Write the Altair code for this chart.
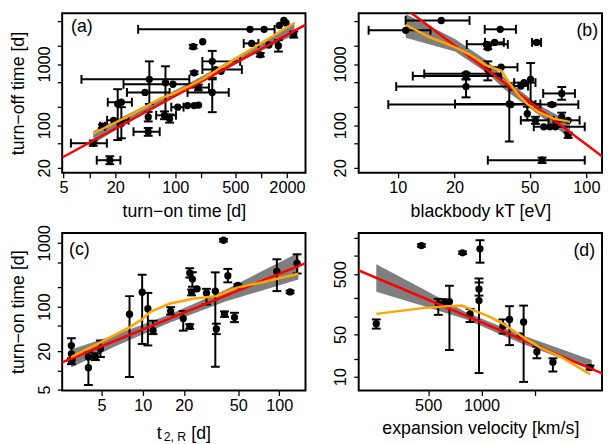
import json
import altair as alt
import pandas as pd

FONT = "Liberation Sans"
GRAY = "#7F7F7F"
RED = "#FF0000"
ORANGE = "#FFA500"
N = None

# ---------------- panel (a): turn-on vs turn-off ----------------
A_X   = [17.3, 11.1, 14.2, 19.2, 21.4, 23.6, 23.6, 48.5, 48.5, 50, 44.5, 75, 86, 77, 94, 107, 139, 166, 187, 166, 162, 209, 186, 270, 270, 294, 342, 743, 1084, 776, 977, 1232, 1588, 1838, 1630, 2400, 1950]
A_Y   = [26.7, 50.7, 96, 120, 222, 237, 106, 78, 136, 561, 343, 145, 128, 495, 466, 197, 209, 209, 213, 717, 1923, 2311, 412, 1104, 343, 811, 759, 3690, 3690, 2173, 1412, 2043, 1993, 5140, 4280, 3030, 4700]
A_XLO = [12.2, 6.1, 13.3, 16.1, N, 16.4, N, 32.7, N, 8.1, 27.4, 60, N, N, 25, 90, N, N, N, N, N, N, 139, 207, 139, 207, N, 37, N, 627, N, N, N, N, N, N, N]
A_XHI = [23, 16, 15.2, 28.6, N, 31.3, N, 66, N, 146, 86, 102, N, N, 186, 125, N, N, N, N, N, N, 247, 571, 420, 597, N, 1436, N, 931, N, N, N, N, N, N, N]
A_YLO = [23, 46, 90, N, 57, N, 61, 67, 115, 222, N, 125, 110, 136, N, N, N, N, N, 680, 1800, N, 370, 595, 163, N, N, N, N, N, 1320, N, 1596, N, N, 2700, N]
A_YHI = [31, 56, 102, N, 387, N, 197, 90, 165, 1104, N, 168, 150, 918, N, N, N, N, N, 760, 2050, N, 460, 1637, 561, N, N, N, N, N, 1510, N, 2459, N, N, 3400, N]
A_RED_X = [4.9, 3460]
A_RED_Y = [29.9, 4550]
A_OR_X = [11.1, 27.4, 66, 103, 207, 385, 927, 2443]
A_OR_Y = [73, 136, 268, 343, 561, 975, 2042, 4720]
A_BAND_X  = [11.1, 31.6, 100, 200, 501, 1000, 2443]
A_BAND_LO = [50, 118.6, 301, 515, 1014, 1637, 3013]
A_BAND_HI = [79.4, 163.7, 371, 619, 1276, 2259, 4775]

# ---------------- panel (b): blackbody kT vs turn-off ----------------
B_X   = [17, 11, 34.9, 54.5, 29.5, 32.6, 30, 35.3, 30, 23, 23, 23, 39, 39.8, 50.6, 44.9, 46.7, 74, 65.6, 53.7, 59.4, 64, 68.5, 74, 80, 80, 58.2, 48.6]
B_Y   = [5150, 3560, 3690, 2254, 2096, 2254, 1850, 885, 812, 634, 690, 428, 222, 217, 561, 437, 496, 330, 217, 120, 94, 94, 94, 136, 120, 69, 26.7, 154]
B_XLO = [11, 7, 28.9, 51.5, 23.2, 29, N, 29.5, N, 12, 13.8, 9.8, 20.1, 8.9, N, 41, 41.4, 59, 53.7, 44.9, 52.6, N, N, N, 67, N, 30, N]
B_XHI = [24, 14.9, 42.3, 57.5, 38.3, 36.5, N, 43.1, N, 35.3, 35.3, 39.8, 57, 48.6, N, 49, 53.7, 86.9, 90.6, 63, 98, N, N, N, 92, N, 98, N]
B_YLO = [N, N, N, 2150, N, N, 1750, N, 540, 561, N, 285, 54, N, 237, N, N, 260, 205, 105, N, N, N, 115, N, 62, 24, 120]
B_YHI = [N, N, N, 2360, N, N, 1960, N, 1104, 720, N, 561, 437, N, 1038, N, N, 420, 230, 137, N, N, N, 160, N, 76, 29.5, 200]
B_RED_X = [10, 130]
B_RED_Y = [10000, 26.3]
B_OR_X = [11, 14.6, 19.8, 24.2, 30.1, 35.3, 39, 43.2, 48.6, 56, 67, 81.8]
B_OR_Y = [4385, 2780, 1923, 1413, 918, 782, 495, 322, 222, 163, 128, 113]
B_BAND_X  = [11, 20.1, 30, 36.7, 54.8, 81.8]
B_BAND_LO = [2679, 1596, 700, 387, 154, 61]
B_BAND_HI = [6590, 2553, 1104, 596, 222, 113]

# ---------------- panel (c): t2,R vs turn-on ----------------
C_X   = [3.0, 3.0, 3.0, 4.0, 4.0, 4.5, 4.9, 8.0, 9.9, 10.9, 11.9, 16, 19.8, 22.1, 22.1, 23.1, 22.8, 25, 29.3, 34, 34.6, 39, 39.7, 42, 47, 49.7, 96, 120, 135]
C_Y   = [24.5, 18.2, 13.9, 16.2, 11, 16.2, 21.8, 75.9, 168, 92.6, 41.9, 85, 65, 49, 336, 270, 168, 190, 164, 175, 44.7, 1096, 76, 305, 68, 214, 355, 170, 479]
C_YLO = [14.4, N, 12.5, N, 5.9, 14.5, 16.2, 7.9, 26, 24.6, 37, 75, 42, 45, 285, 205, 150, N, 108, 11.4, 37, 1050, 69, 240, 57, 205, 175, 162, 330]
C_YHI = [31.9, N, 15.5, N, 19.4, 18.5, 29.4, 146, 316, 164, 60, 98, 85.5, 53, 400, 345, 185, N, 190, 344, 54, 1150, 84, 390, 80, 225, 552, 178, 660]
C_RED_X = [2.5, 160]
C_RED_Y = [13.1, 491]
C_OR_X = [2.99, 4.93, 7.93, 9.89, 11.4, 15.9, 23.4, 34.6, 48.3, 71.3, 138]
C_OR_Y = [16.2, 27.7, 46.8, 63.5, 82.6, 112, 133, 146, 197, 235, 328]
C_BAND_X  = [2.99, 6.31, 15.85, 39.8, 138]
C_BAND_LO = [11.1, 23.9, 56.5, 118.9, 266]
C_BAND_HI = [21.2, 36.1, 76.2, 179.9, 700]

# ---------------- panel (d): expansion velocity vs turn-on ----------------
D_X   = [255, 458, 781, 979, 967, 967, 570, 621, 659, 861, 1319, 1436, 1725, 1655, 2048, 2522, 4083]
D_Y   = [75.7, 1493, 1133, 1318, 284, 183, 161, 176, 176, 110, 69, 89, 81, 47.5, 26, 17.4, 14.2]
D_YLO = [62.7, 1420, 1080, 776, 221, 11.5, 106, N, 27.7, 80.7, 51.9, 33.4, 8.2, N, 20.2, 12.2, 13.2]
D_YHI = [89, 1570, 1190, 1828, 425, 365, 195, N, 322, 133, 89, 147.6, 151, N, 31.6, 20.2, 15.3]
D_RED_X = [200, 4900]
D_RED_Y = [590, 11.0]
D_OR_X = [255, 465, 653, 774, 861, 1089, 1318, 1500, 1816, 2153, 2780, 4083]
D_OR_Y = [110, 137, 148, 151, 133, 101, 75.7, 58.9, 40.4, 30.2, 21.5, 11]
D_BAND_X  = [255, 465, 807, 1667, 4170]
D_BAND_LO = [256, 150, 90.6, 35.9, 13]
D_BAND_HI = [729, 286, 119, 49.5, 19]

AX = dict(domain=False, grid=False, ticks=True, tickColor="black", tickWidth=1.3, tickSize=5,
          labelFont=FONT, labelFontSize=16.5, labelColor="black", labelFlush=False, labelOverlap=False,
          titleFont=FONT, titleFontSize=18, titleFontWeight="normal", titleColor="black")


def lab_expr(labels):
    return "indexof(" + json.dumps(labels) + ", datum.value) >= 0 ? '' + datum.value : ''"


def panel(x, y, xlo, xhi, ylo, yhi, red_x, red_y, or_x, or_y, bx, blo, bhi,
          xdom, ydom, xticks, xlabs, yticks, ylabs, xtitle, ytitle, tag, tag_x, tag_y, tag_align, w, h):
    xs = alt.Scale(type="log", domain=xdom, nice=False)
    ys = alt.Scale(type="log", domain=ydom, nice=False)
    xaxis = alt.Axis(values=xticks, labelExpr=lab_expr(xlabs), title=xtitle, labelPadding=2,
                     minExtent=24, maxExtent=24, titlePadding=6, **AX)
    yaxis = alt.Axis(values=yticks, labelExpr=lab_expr(ylabs), title=ytitle, labelAngle=270,
                     labelAlign="center", labelBaseline="bottom", labelPadding=5,
                     minExtent=28, maxExtent=28, titlePadding=7, **AX)

    def ex(f):
        return alt.X(f, scale=xs, axis=xaxis)

    def ey(f):
        return alt.Y(f, scale=ys, axis=yaxis)

    pts = pd.DataFrame({"x": x, "y": y})
    band_df = pd.DataFrame({"x": bx, "lo": blo, "hi": bhi})
    red_df = pd.DataFrame({"x": red_x, "y": red_y})
    or_df = pd.DataFrame({"x": or_x, "y": or_y})
    tag_df = pd.DataFrame({"t": [tag]})

    layers = [
        alt.Chart(band_df).mark_area(color=GRAY, opacity=1, clip=True).encode(
            x=ex("x:Q"), y=ey("lo:Q"), y2="hi:Q"),
    ]
    if xlo is not None:
        xe = pd.DataFrame([{"y": b, "lo": l, "hi": hh} for b, l, hh in zip(y, xlo, xhi) if l is not None])
        layers += [
            alt.Chart(xe).mark_rule(color="black", strokeWidth=2).encode(
                x=ex("lo:Q"), x2="hi:Q", y=ey("y:Q")),
            alt.Chart(xe).mark_tick(color="black", orient="vertical", size=9, thickness=2, opacity=1).encode(
                x=ex("lo:Q"), y=ey("y:Q")),
            alt.Chart(xe).mark_tick(color="black", orient="vertical", size=9, thickness=2, opacity=1).encode(
                x=ex("hi:Q"), y=ey("y:Q")),
        ]
    ye = pd.DataFrame([{"x": a, "lo": l, "hi": hh} for a, l, hh in zip(x, ylo, yhi) if l is not None])
    layers += [
        alt.Chart(ye).mark_rule(color="black", strokeWidth=2).encode(
            x=ex("x:Q"), y=ey("lo:Q"), y2="hi:Q"),
        alt.Chart(ye).mark_tick(color="black", orient="horizontal", size=9, thickness=2, opacity=1).encode(
            x=ex("x:Q"), y=ey("lo:Q")),
        alt.Chart(ye).mark_tick(color="black", orient="horizontal", size=9, thickness=2, opacity=1).encode(
            x=ex("x:Q"), y=ey("hi:Q")),
        alt.Chart(pts).mark_circle(color="black", size=55, opacity=1).encode(
            x=ex("x:Q"), y=ey("y:Q")),
        alt.Chart(red_df).mark_line(color=RED, strokeWidth=2.5, clip=True).encode(
            x=ex("x:Q"), y=ey("y:Q")),
        alt.Chart(or_df).mark_line(color=ORANGE, strokeWidth=2.5, clip=True).encode(
            x=ex("x:Q"), y=ey("y:Q")),
        alt.Chart(tag_df).mark_text(font=FONT, fontSize=18, color="black", align=tag_align,
                                    baseline="alphabetic").encode(
            x=alt.value(tag_x), y=alt.value(tag_y), text="t:N"),
    ]
    return layers


W = 247
la = panel(A_X, A_Y, A_XLO, A_XHI, A_YLO, A_YHI, A_RED_X, A_RED_Y, A_OR_X, A_OR_Y,
           A_BAND_X, A_BAND_LO, A_BAND_HI, [4.83, 3288], [16.6, 6760],
           [5, 10, 20, 50, 100, 200, 500, 1000, 2000], [5, 20, 100, 500, 2000],
           [20, 50, 100, 200, 500, 1000, 2000, 5000], [20, 100, 1000],
           "turn\u2212on time [d]", "turn\u2212off time [d]", "(a)", 9, 19.5, "left", W, 162)
lb = panel(B_X, B_Y, B_XLO, B_XHI, B_YLO, B_YHI, B_RED_X, B_RED_Y, B_OR_X, B_OR_Y,
           B_BAND_X, B_BAND_LO, B_BAND_HI, [6.2, 121], [16.6, 6760],
           [10, 20, 50, 100], [10, 20, 50, 100],
           [20, 50, 100, 200, 500, 1000, 2000, 5000], [20, 100, 1000],
           "blackbody kT [eV]", None, "(b)", 243, 23, "right", W, 162)
lc = panel(C_X, C_Y, None, None, C_YLO, C_YHI, C_RED_X, C_RED_Y, C_OR_X, C_OR_Y,
           C_BAND_X, C_BAND_LO, C_BAND_HI, [2.57, 155.6], [4.83, 1429],
           [5, 10, 20, 50, 100], [5, 10, 20, 50, 100],
           [5, 10, 20, 50, 100, 200, 500, 1000], [5, 20, 100, 1000],
           None, "turn\u2212on time [d]", "(c)", 7, 22, "left", W, 160)
# subscripted x title of panel (c): t_{2, R} [d]
lc += [
    alt.Chart(pd.DataFrame({"t": ["t"]})).mark_text(font=FONT, fontSize=18, align="left", color="black").encode(
        x=alt.value(96), y=alt.value(204.5), text="t:N"),
    alt.Chart(pd.DataFrame({"t": ["2, R"]})).mark_text(font=FONT, fontSize=12.5, align="left", color="black").encode(
        x=alt.value(103), y=alt.value(207.5), text="t:N"),
    alt.Chart(pd.DataFrame({"t": ["[d]"]})).mark_text(font=FONT, fontSize=18, align="left", color="black").encode(
        x=alt.value(131), y=alt.value(204.5), text="t:N"),
]
ld = panel(D_X, D_Y, None, None, D_YLO, D_YHI, D_RED_X, D_RED_Y, D_OR_X, D_OR_Y,
           D_BAND_X, D_BAND_LO, D_BAND_HI, [203, 4770], [5.9, 2417],
           [500, 1000, 2000], [500, 1000],
           [10, 20, 50, 100, 200, 500, 1000, 2000], [10, 50, 500],
           "expansion velocity [km/s]", None, "(d)", 240, 23.7, "right", W, 160)

pa = alt.layer(*la).properties(width=W, height=162)
pb = alt.layer(*lb).properties(width=W, height=162)
pc = alt.layer(*lc).properties(width=W, height=160)
pdd = alt.layer(*ld).properties(width=W, height=160)

chart = alt.concat(pa, pb, pc, pdd, columns=2, spacing={"row": 61, "column": 54}, bounds="flush").properties(
    padding={"left": 0, "top": 1, "right": 0, "bottom": 0},
    background="white",
).configure_view(stroke="black", strokeWidth=2)

chart.save("out.html", embed_options={"renderer": "svg", "actions": False})
